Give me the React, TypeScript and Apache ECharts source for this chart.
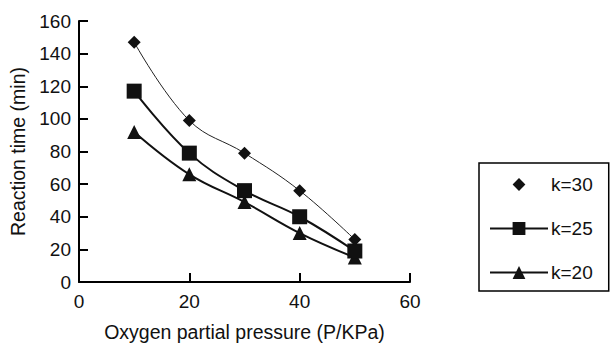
import React, { useEffect, useRef } from "react";
import * as echarts from "echarts";

const pressure = [10, 20, 30, 40, 50];
const k30 = [147, 99, 79, 56, 26];
const k25 = [117, 79, 56, 40, 19];
const k20 = [92, 66, 49, 30, 15];
const seriesNames = ["k=30", "k=25", "k=20"];

const FONT = "Liberation Sans, Arial, Helvetica, sans-serif";

export default function App() {
  const ref = useRef<HTMLDivElement>(null);
  useEffect(() => {
    if (!ref.current) return;
    const chart = echarts.init(ref.current, undefined, { renderer: "svg" });
    const pts = (ys: number[]) => pressure.map((x, i) => [x, ys[i]]);
    const axisCommon = {
      axisLine: { show: true, lineStyle: { color: "#000", width: 2 } },
      axisTick: { show: true, inside: true, length: 9, lineStyle: { color: "#000", width: 2 } },
      splitLine: { show: false },
      nameLocation: "middle" as const,
    };
    chart.setOption({
      animation: false,
      backgroundColor: "#fff",
      grid: { left: 78, right: 201, top: 21, bottom: 60, containLabel: false },
      xAxis: {
        type: "value",
        min: 0,
        max: 60,
        interval: 20,
        name: "Oxygen partial pressure (P/KPa)",
        nameGap: 40,
        ...axisCommon,
        nameTextStyle: { color: "#111", fontSize: 19.5, fontFamily: FONT },
        axisLabel: { color: "#111", fontSize: 19, fontFamily: FONT, margin: 10 },
      },
      yAxis: {
        type: "value",
        min: 0,
        max: 160,
        interval: 20,
        name: "Reaction time (min)",
        nameGap: 51,
        ...axisCommon,
        nameTextStyle: { color: "#111", fontSize: 19.5, fontFamily: FONT },
        axisLabel: { color: "#111", fontSize: 19, fontFamily: FONT, margin: 8 },
      },
      legend: {
        orient: "vertical",
        left: 479,
        top: 163,
        width: 131,
        backgroundColor: "#fff",
        borderColor: "#000",
        borderWidth: 1.5,
        padding: [12, 16, 9, 10],
        itemWidth: 58,
        itemHeight: 16,
        itemGap: 25,
        textStyle: { color: "#111", fontSize: 19, fontFamily: FONT, padding: [0, 0, 0, -2] },
        data: [
          { name: seriesNames[0], lineStyle: { opacity: 0 } },
          { name: seriesNames[1] },
          { name: seriesNames[2] },
        ],
      },
      series: [
        {
          name: seriesNames[0],
          type: "line",
          data: pts(k30),
          smooth: 0.4,
          symbol: "diamond",
          symbolSize: 13,
          itemStyle: { color: "#111" },
          lineStyle: { color: "#222", width: 1 },
          z: 3,
        },
        {
          name: seriesNames[1],
          type: "line",
          data: pts(k25),
          smooth: 0.4,
          symbol: "rect",
          symbolSize: 15,
          itemStyle: { color: "#111" },
          lineStyle: { color: "#111", width: 2 },
          z: 2,
        },
        {
          name: seriesNames[2],
          type: "line",
          data: pts(k20),
          smooth: 0.4,
          symbol: "triangle",
          symbolSize: 14,
          itemStyle: { color: "#111" },
          lineStyle: { color: "#111", width: 2 },
          z: 1,
        },
      ],
    });
    return () => chart.dispose();
  }, []);
  return (
    <div
      ref={ref}
      style={{ position: "absolute", left: 0, top: 0, width: 611, height: 347 }}
    />
  );
}
